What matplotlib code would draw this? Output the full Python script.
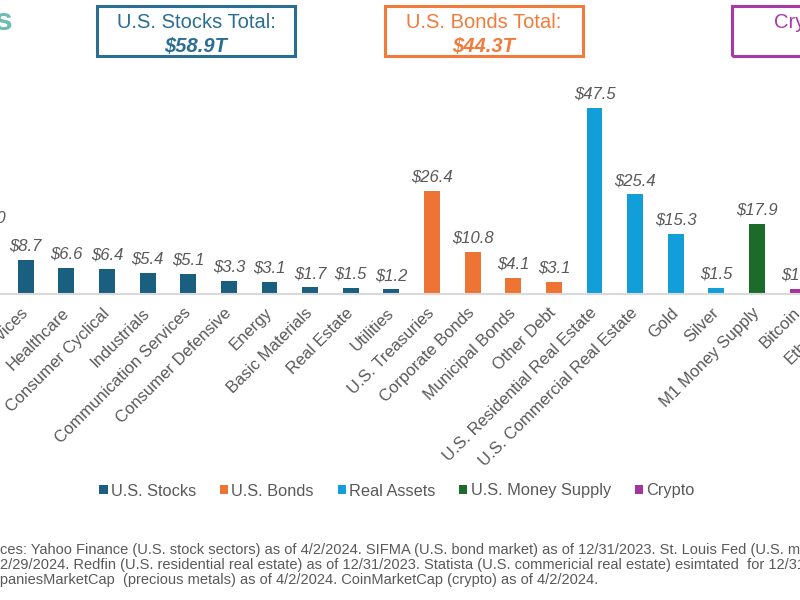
import matplotlib
matplotlib.use("Agg")
import matplotlib.pyplot as plt
from matplotlib.patches import Rectangle, Patch

matplotlib.rcParams["font.family"] = ["Liberation Sans", "DejaVu Sans"]

# categories and values (trillions of USD)
stock_names = ["Technology", "Financial Services", "Healthcare", "Consumer Cyclical", "Industrials",
               "Communication Services", "Consumer Defensive", "Energy", "Basic Materials",
               "Real Estate", "Utilities"]
stock_vals = [16.0, 8.7, 6.6, 6.4, 5.4, 5.1, 3.3, 3.1, 1.7, 1.5, 1.2]
bond_names = ["U.S. Treasuries", "Corporate Bonds", "Municipal Bonds", "Other Debt"]
bond_vals = [26.4, 10.8, 4.1, 3.1]
real_names = ["U.S. Residential Real Estate", "U.S. Commercial Real Estate", "Gold", "Silver"]
real_vals = [47.5, 25.4, 15.3, 1.5]
money_names = ["M1 Money Supply"]
money_vals = [17.9]
crypto_names = ["Bitcoin", "Ethereum", "Other Crypto"]
crypto_vals = [1.3, 0.4, 0.8]

group_labels = ["U.S. Stocks", "U.S. Bonds", "Real Assets", "U.S. Money Supply", "Crypto"]
group_colors = ["#1A5E80", "#ED7433", "#129ED8", "#1D6B2A", "#A5339F"]
totals = [("U.S. Stocks Total:", "$58.9T", "#2A6E93"),
          ("U.S. Bonds Total:", "$44.3T", "#F37B3A"),
          ("Crypto Total:", "$2.5T", "#A93AA5")]

names = stock_names + bond_names + real_names + money_names + crypto_names
vals = stock_vals + bond_vals + real_vals + money_vals + crypto_vals
groups = [stock_vals, bond_vals, real_vals, money_vals, crypto_vals]
colors = []
for g, c in zip(groups, group_colors):
    colors += [c] * len(g)

W, H = 800, 600
fig = plt.figure(figsize=(8, 6), dpi=100)

def fx(px):
    return px / W

def fy(py):
    return 1 - py / H

# the chart is wider than the picture; it is cut on both sides
step = 40.625
x0 = -14.9
left_px = x0 - step / 2
ax = fig.add_axes([fx(left_px), fy(294), len(names) * step / W, 196 / H])
xs = list(range(len(names)))
ax.bar(xs, vals, width=0.39, color=colors)
ax.set_xlim(-0.5, len(names) - 0.5)
ax.set_ylim(0, 50)
for x, v in zip(xs, vals):
    ax.annotate("\\$%.1f" % v, (x, v), xytext=(0, 4.5), textcoords="offset points",
                ha="center", va="bottom", fontsize=12, style="italic", color="#595959")
ax.set_xticks(xs)
ax.set_xticklabels(names, rotation=45, ha="right", va="center", rotation_mode="anchor",
                   fontsize=12, color="#595959")
ax.tick_params(axis="x", length=0, pad=12)
ax.set_yticks([])
for s in ["top", "right", "left"]:
    ax.spines[s].set_visible(False)
ax.spines["bottom"].set_color("#D9D9D9")
ax.spines["bottom"].set_linewidth(1.5)
ax.patch.set_alpha(0)

# title (mostly outside the picture)
fig.text(fx(13), fy(30), "Market Sizes", ha="right", va="baseline",
         fontsize=23, fontweight="bold", color="#6CBDB3")

# total boxes
box_left = [97, 385, 732]
for bx, (t1, t2, c) in zip(box_left, totals):
    fig.patches.append(Rectangle((fx(bx), fy(56)), fx(198), 50 / H, transform=fig.transFigure,
                                 fill=False, edgecolor=c, linewidth=2.2))
    fig.text(fx(bx + 99), fy(21), t1, ha="center", va="center_baseline", fontsize=14.5, color=c)
    fig.text(fx(bx + 99), fy(44), t2.replace("$", "\\$"), ha="center", va="center_baseline",
             fontsize=14.5, color=c, fontweight="bold", style="italic")

# legend
handles = [Patch(facecolor=c, edgecolor="none") for c in group_colors]
fig.legend(handles, group_labels, loc="center", bbox_to_anchor=(fx(397), fy(491)), ncol=5,
           frameon=False, fontsize=11.8, handlelength=0.5, handleheight=0.5,
           handletextpad=0.2, columnspacing=1.45, labelcolor="#595959")

# sources
src1 = ("Sources: Yahoo Finance (U.S. stock sectors) as of 4/2/2024. SIFMA (U.S. bond market) "
        "as of 12/31/2023. St. Louis Fed (U.S. money supply) as of")
src2 = ("2/29/2024. Redfin (U.S. residential real estate) as of 12/31/2023. Statista "
        "(U.S. commericial real estate) esimtated  for 12/31/2023.")
src3 = "CompaniesMarketCap  (precious metals) as of 4/2/2024. CoinMarketCap (crypto) as of 4/2/2024."
fig.text(fx(-31), fy(550), src1, ha="left", va="center", fontsize=10.5, color="#595959")
fig.text(fx(0), fy(565), src2, ha="left", va="center", fontsize=10.5, color="#595959")
fig.text(fx(-31), fy(580), src3, ha="left", va="center", fontsize=10.5, color="#595959")

fig.savefig("out.png", dpi=100)
